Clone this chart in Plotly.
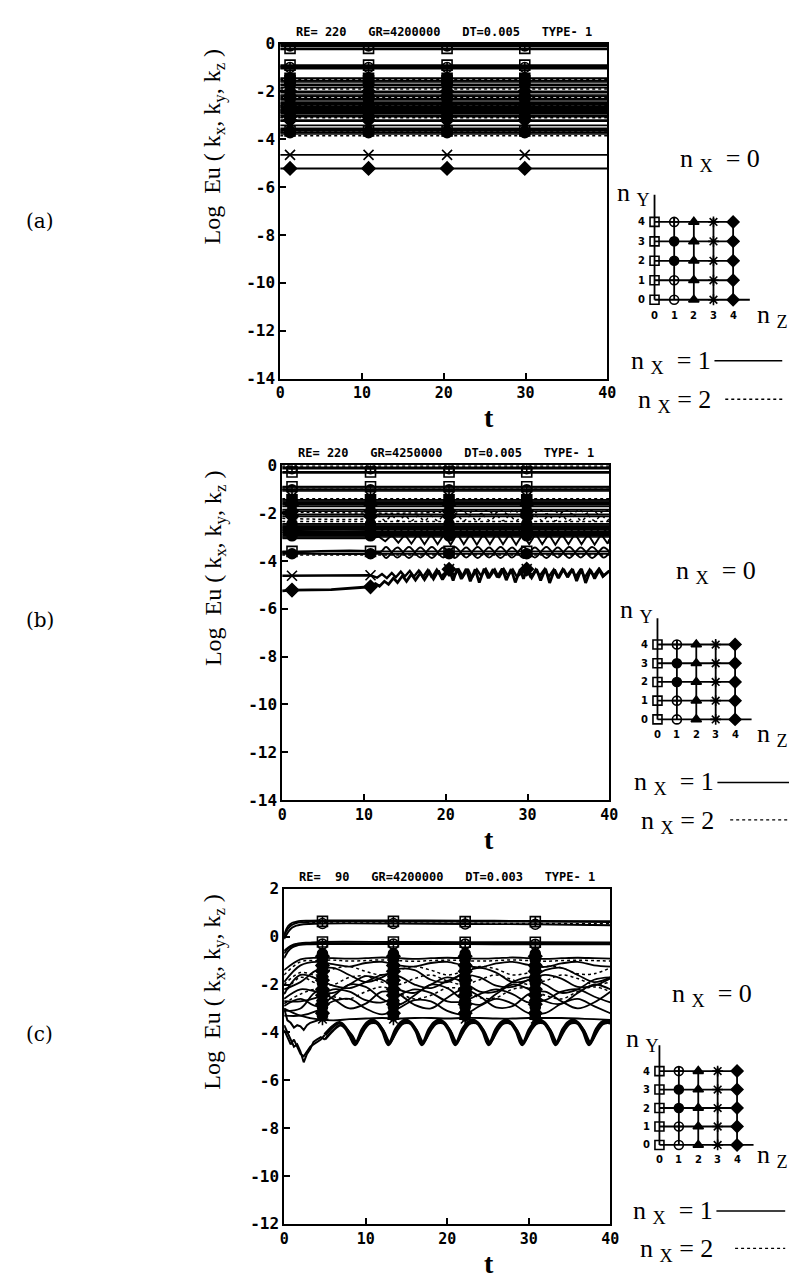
import plotly.graph_objects as go

W, H = 797, 1277
NB = '\u00a0'

# ---------------- data ----------------
X_TICKS = [0, 10, 20, 30, 40]
Y_TICKS_AB = [0, -2, -4, -6, -8, -10, -12, -14]
Y_TICKS_C = [2, 0, -2, -4, -6, -8, -10, -12]
TITLES = ['RE= 220   GR=4200000   DT=0.005   TYPE- 1',
          'RE= 220   GR=4250000   DT=0.005   TYPE- 1',
          'RE=  90   GR=4200000   DT=0.003   TYPE- 1']
PANEL_LABELS = ['(a)', '(b)', '(c)']
MARK_T_AB = [1.2, 10.8, 20.4, 29.9]
MARK_T_C = [4.7, 13.4, 22.2, 30.8]

# panel (a): nearly constant levels
A_MARKED_LEVELS = [-0.10, -0.20, -0.90, -1.00, -1.45, -1.55, -1.75, -2.00, -2.20, -2.35, -2.45, -2.55, -2.62,
                   -2.70, -2.78, -2.85, -2.92, -3.05, -3.20, -3.42, -3.55, -3.65, -3.72, -4.65, -5.22]
A_MARKED_SYMBOLS = ['circle-cross-open', 'square-open', 'square-open', 'circle-cross-open', 'square', 'square-open',
                    'circle', 'diamond', 'diamond', 'circle', 'triangle-up', 'diamond', 'circle', 'triangle-up',
                    'diamond', 'circle', 'triangle-up', 'diamond', 'diamond', 'x-thin-open', 'triangle-up',
                    'square-open', 'circle', 'x-thin-open', 'diamond']
A_SOLID_LEVELS = [-0.05, -0.25, -0.95, -1.05, -1.60, -1.70, -1.85, -2.05, -2.15, -2.30, -2.50, -2.66, -2.75,
                  -2.88, -3.00, -3.25, -3.60, -3.78]
A_DOTTED_LEVELS = [-0.02, -0.98, -1.50, -1.90, -2.25, -2.60, -2.82, -3.10, -3.70, -3.85]

# panel (b)
B_MARKED_LEVELS = [-0.14, -0.28, -0.90, -1.03, -1.45, -1.55, -1.65, -1.92, -2.13, -2.45, -2.55, -2.62, -2.70,
                   -2.78, -2.85, -2.95, -3.60, -3.70]
B_MARKED_SYMBOLS = ['circle-cross-open', 'square-open', 'square-open', 'circle-cross-open', 'square', 'circle',
                    'diamond', 'diamond', 'diamond', 'circle', 'triangle-up', 'diamond', 'circle', 'triangle-up',
                    'diamond', 'circle', 'square-open', 'circle']
B_SOLID_LEVELS = [-0.08, -0.32, -0.95, -1.08, -1.50, -1.60, -1.72, -1.85, -2.05, -2.50, -2.66, -2.80, -2.90, -3.00]
B_DOTTED_LEVELS = [-0.03, -1.00, -1.40, -2.35, -2.58, -3.75]
B_SPIKE = [(0, -5.25), (1.2, -5.22), (6.0, -5.2), (10.8, -5.08), (11.4, -4.95), (11.9, -5.06), (12.5, -4.85),
           (13.0, -4.98), (13.6, -4.72), (14.1, -4.9), (14.7, -4.62), (15.2, -4.85), (15.8, -4.55), (16.3, -4.8),
           (16.9, -4.5), (17.4, -4.78), (18.0, -4.45), (18.5, -4.75), (19.1, -4.4), (19.6, -4.78), (20.4, -4.35),
           (20.9, -4.82), (21.4, -4.32), (21.9, -4.75), (22.5, -4.33), (23.0, -4.85), (23.6, -4.35), (24.1, -4.9),
           (24.7, -4.33), (25.2, -4.72), (25.8, -4.35), (26.3, -4.68), (26.9, -4.32), (27.4, -4.8), (28.0, -4.34),
           (28.5, -4.9), (29.1, -4.36), (29.5, -4.75), (29.9, -4.34), (30.5, -4.7), (31.1, -4.35), (31.6, -4.82),
           (32.2, -4.33), (32.7, -4.92), (33.3, -4.36), (33.8, -4.72), (34.4, -4.34), (34.9, -4.68), (35.5, -4.35),
           (36.0, -4.84), (36.6, -4.33), (37.1, -4.92), (37.7, -4.38), (38.2, -4.74), (38.8, -4.36), (39.3, -4.62),
           (40, -4.42)]
B_XCURVE = [(0, -4.62), (1.2, -4.62), (10.8, -4.6), (11.6, -4.7), (12.2, -4.55), (12.8, -4.72), (13.4, -4.5),
            (13.9, -4.68), (14.5, -4.45), (15.0, -4.65), (15.6, -4.42), (16.1, -4.66), (16.7, -4.4), (17.2, -4.68),
            (17.8, -4.38), (18.3, -4.7), (18.9, -4.36), (19.4, -4.66), (20.4, -4.34), (21.0, -4.62), (21.6, -4.36),
            (22.1, -4.66), (22.7, -4.34), (23.2, -4.7), (23.8, -4.36), (24.3, -4.62), (24.9, -4.34), (25.4, -4.66),
            (26.0, -4.36), (26.5, -4.7), (27.1, -4.34), (27.6, -4.62), (28.2, -4.36), (28.7, -4.66), (29.9, -4.34),
            (30.4, -4.7), (31.0, -4.36), (31.5, -4.62), (32.1, -4.34), (32.6, -4.66), (33.2, -4.36), (33.7, -4.7),
            (34.3, -4.34), (34.8, -4.62), (35.4, -4.36), (35.9, -4.66), (36.5, -4.34), (37.0, -4.7), (37.6, -4.36),
            (38.1, -4.62), (38.7, -4.34), (39.2, -4.66), (40, -4.4)]
B_ZIG = [(0, -3.05), (11.0, -3.05), (11.8, -2.98), (12.6, -3.18), (13.4, -2.92), (14.2, -3.24), (15.0, -2.9),
         (15.8, -3.28), (16.6, -2.88), (17.4, -3.3), (18.2, -2.88), (19.0, -3.3), (19.8, -2.88), (20.6, -3.32),
         (21.4, -2.86), (22.2, -3.3), (23.0, -2.88), (23.8, -3.32), (24.6, -2.88), (25.4, -3.3), (26.2, -2.86),
         (27.0, -3.3), (27.8, -2.88), (28.6, -3.32), (29.4, -2.88), (30.2, -3.3), (31.0, -2.86), (31.8, -3.3),
         (32.6, -2.88), (33.4, -3.32), (34.2, -2.88), (35.0, -3.3), (35.8, -2.86), (36.6, -3.3), (37.4, -2.88),
         (38.2, -3.32), (39.0, -2.88), (39.8, -3.28), (40, -3.1)]
B_CIRC1 = [(0, -3.62), (12.0, -3.62), (12.7, -3.42), (14.1, -3.86), (15.5, -3.42), (16.9, -3.86), (18.3, -3.42),
           (19.7, -3.86), (21.1, -3.42), (22.5, -3.86), (23.9, -3.42), (25.3, -3.86), (26.7, -3.42), (28.1, -3.86),
           (29.5, -3.42), (30.9, -3.86), (32.3, -3.42), (33.7, -3.86), (35.1, -3.42), (36.5, -3.86), (37.9, -3.42),
           (39.3, -3.86), (40, -3.65)]
B_CIRC2 = [(0, -3.66), (12.0, -3.66), (12.7, -3.88), (14.1, -3.44), (15.5, -3.88), (16.9, -3.44), (18.3, -3.88),
           (19.7, -3.44), (21.1, -3.88), (22.5, -3.44), (23.9, -3.88), (25.3, -3.44), (26.7, -3.88), (28.1, -3.44),
           (29.5, -3.88), (30.9, -3.44), (32.3, -3.88), (33.7, -3.44), (35.1, -3.88), (36.5, -3.44), (37.9, -3.88),
           (39.3, -3.44), (40, -3.62)]
B_WAVY_S = [(0, -2.72), (11.0, -2.72), (11.8, -2.62), (12.6, -2.82), (13.4, -2.62), (14.2, -2.84), (15.0, -2.6),
            (15.8, -2.84), (16.6, -2.62), (17.4, -2.82), (18.2, -2.6), (19.0, -2.84), (19.8, -2.62), (20.6, -2.82),
            (21.4, -2.6), (22.2, -2.84), (23.0, -2.62), (23.8, -2.82), (24.6, -2.6), (25.4, -2.84), (26.2, -2.62),
            (27.0, -2.82), (27.8, -2.6), (28.6, -2.84), (29.4, -2.62), (30.2, -2.82), (31.0, -2.6), (31.8, -2.84),
            (32.6, -2.62), (33.4, -2.82), (34.2, -2.6), (35.0, -2.84), (35.8, -2.62), (36.6, -2.82), (37.4, -2.6),
            (38.2, -2.84), (39.0, -2.62), (39.8, -2.8), (40, -2.72)]
B_WAVY_D1 = [(0, -2.22), (11.0, -2.22), (11.8, -2.12), (12.6, -2.32), (13.4, -2.12), (14.2, -2.32), (15.0, -2.12),
             (15.8, -2.32), (16.6, -2.12), (17.4, -2.32), (18.2, -2.12), (19.0, -2.32), (19.8, -2.12), (20.6, -2.32),
             (21.4, -2.12), (22.2, -2.32), (23.0, -2.12), (23.8, -2.32), (24.6, -2.12), (25.4, -2.32), (26.2, -2.12),
             (27.0, -2.32), (27.8, -2.12), (28.6, -2.32), (29.4, -2.12), (30.2, -2.32), (31.0, -2.12), (31.8, -2.32),
             (32.6, -2.12), (33.4, -2.32), (34.2, -2.12), (35.0, -2.32), (35.8, -2.12), (36.6, -2.32), (37.4, -2.12),
             (38.2, -2.32), (39.0, -2.12), (39.8, -2.3), (40, -2.25)]
B_WAVY_D2 = [(0, -1.95), (19.5, -1.95), (20.3, -1.87), (21.1, -2.03), (21.9, -1.87), (22.7, -2.04), (23.5, -1.86),
             (24.3, -2.03), (25.1, -1.87), (25.9, -2.04), (26.7, -1.86), (27.5, -2.03), (28.3, -1.87), (29.1, -2.04),
             (29.9, -1.86), (30.7, -2.03), (31.5, -1.87), (32.3, -2.04), (33.1, -1.86), (33.9, -2.03), (34.7, -1.87),
             (35.5, -2.04), (36.3, -1.86), (37.1, -2.03), (37.9, -1.87), (38.7, -2.04), (39.5, -1.86), (40, -1.95)]

# panel (c)
C_TOP_T = [0, 0.5, 1, 1.5, 2, 3, 4.7, 13.4, 22.2, 30.8, 40]
C_MARKED = [('square-cross-open', [0.05, 0.35, 0.5, 0.57, 0.6, 0.62, 0.64, 0.64, 0.63, 0.63, 0.61]),
            ('circle-open', [-0.1, 0.2, 0.38, 0.46, 0.5, 0.53, 0.55, 0.55, 0.53, 0.52, 0.48]),
            ('square-open', [-0.6, -0.45, -0.35, -0.3, -0.27, -0.25, -0.22, -0.22, -0.23, -0.23, -0.24]),
            ('circle-cross-open', [-0.9, -0.6, -0.45, -0.38, -0.34, -0.32, -0.31, -0.31, -0.31, -0.32, -0.32])]
C_TOP_SOLID = [[0.1, 0.45, 0.58, 0.63, 0.66, 0.67, 0.68, 0.68, 0.67, 0.66, 0.65],
               [-0.7, -0.5, -0.4, -0.33, -0.3, -0.28, -0.27, -0.27, -0.27, -0.27, -0.27]]
C_TOP_DOTTED = [[0.0, 0.4, 0.55, 0.6, 0.62, 0.6, 0.58, 0.57, 0.56, 0.55, 0.54]]
T_C2 = [0, 2, 4, 6, 8, 10, 12, 14, 16, 18, 20, 22, 24, 26, 28, 30, 32, 34, 36, 38, 40]
C_WAVY_SOLID = [
    [-1.4, -0.95, -0.88, -0.9, -0.92, -0.9, -0.87, -0.9, -0.93, -0.9, -0.88, -0.9, -0.92, -0.9, -0.87, -0.9, -0.93, -0.9, -0.88, -0.9, -0.92],
    [-1.9, -1.2, -1.05, -1.15, -1.25, -1.1, -1.05, -1.2, -1.25, -1.1, -1.05, -1.2, -1.28, -1.12, -1.05, -1.18, -1.26, -1.12, -1.05, -1.2, -1.25],
    [-2.2, -1.9, -1.4, -1.3, -1.6, -1.9, -1.7, -1.35, -1.4, -1.8, -1.9, -1.5, -1.3, -1.5, -1.9, -1.8, -1.4, -1.3, -1.6, -1.9, -1.7],
    [-2.6, -2.2, -2.3, -2.35, -2.0, -1.65, -1.8, -2.2, -2.35, -2.0, -1.7, -1.9, -2.3, -2.3, -1.9, -1.7, -2.0, -2.35, -2.2, -1.8, -1.7],
    [-2.9, -2.6, -2.9, -2.5, -2.0, -2.1, -2.6, -2.85, -2.45, -2.0, -2.15, -2.65, -2.85, -2.4, -2.0, -2.2, -2.7, -2.8, -2.35, -2.0, -2.2],
    [-3.1, -3.0, -2.3, -2.6, -3.0, -2.8, -2.3, -2.4, -2.85, -3.0, -2.55, -2.2, -2.5, -2.95, -2.9, -2.4, -2.3, -2.7, -3.0, -2.75, -2.3],
    [-3.3, -3.3, -3.1, -2.7, -2.6, -3.0, -3.25, -3.0, -2.65, -2.7, -3.1, -3.25, -2.9, -2.6, -2.8, -3.2, -3.2, -2.8, -2.6, -2.9, -3.2],
    [-3.0, -3.3, -3.45, -3.5, -3.45, -3.42, -3.4, -3.42, -3.4, -3.4, -3.42, -3.4, -3.4, -3.42, -3.42, -3.4, -3.4, -3.4, -3.42, -3.45, -3.48],
    [-2.4, -1.6, -1.75, -2.05, -2.15, -1.9, -1.6, -1.65, -2.0, -2.15, -1.85, -1.6, -1.7, -2.05, -2.1, -1.8, -1.6, -1.75, -2.1, -2.05, -1.75],
    [-2.7, -2.7, -2.55, -2.2, -2.3, -2.65, -2.75, -2.45, -2.2, -2.35, -2.7, -2.7, -2.4, -2.2, -2.4, -2.75, -2.65, -2.3, -2.2, -2.5, -2.75]]
C_WAVY_DOTTED = [
    [-1.6, -1.05, -1.0, -0.98, -1.02, -1.0, -0.97, -1.0, -1.03, -1.0, -0.98, -1.0, -1.02, -1.0, -0.97, -1.0, -1.03, -1.0, -0.98, -1.0, -1.02],
    [-2.0, -1.5, -1.6, -1.35, -1.25, -1.45, -1.6, -1.4, -1.25, -1.4, -1.6, -1.45, -1.25, -1.35, -1.6, -1.5, -1.25, -1.3, -1.55, -1.55, -1.3],
    [-2.4, -1.7, -1.95, -2.0, -1.7, -1.65, -1.9, -2.0, -1.75, -1.6, -1.85, -2.0, -1.8, -1.6, -1.8, -2.0, -1.85, -1.6, -1.75, -2.0, -1.9],
    [-2.8, -2.4, -2.2, -2.5, -2.6, -2.3, -2.1, -2.35, -2.6, -2.45, -2.15, -2.2, -2.55, -2.55, -2.2, -2.15, -2.45, -2.6, -2.3, -2.1, -2.3]]
C_STACK_Y = [-0.72, -0.82, -0.95, -1.08, -1.2, -1.32, -1.45, -1.58, -1.7, -1.82, -1.95, -2.08, -2.2, -2.32, -2.45,
             -2.58, -2.7, -2.82, -2.95, -3.08, -3.2, -3.3, -3.45]
C_STACK_SYMBOLS = ['circle', 'diamond', 'circle', 'triangle-up', 'diamond', 'circle', 'diamond', 'triangle-up',
                   'circle', 'diamond', 'circle', 'triangle-up', 'diamond', 'circle', 'diamond', 'triangle-up',
                   'circle', 'diamond', 'circle', 'triangle-up', 'diamond', 'circle', 'asterisk-open']
T_E = [0, 0.4, 0.8, 1.2, 1.6, 2.0, 2.4, 2.8, 3.2, 3.6, 4.0, 4.5, 5.0]
C_EARLY = [[-3.9, -4.2, -4.5, -4.3, -4.6, -4.9, -5.0, -4.8, -4.6, -4.5, -4.4, -4.3, -4.1],
           [-3.7, -4.0, -4.3, -4.6, -4.5, -4.8, -5.25, -4.9, -4.7, -4.4, -4.3, -4.2, -4.3],
           [-3.0, -3.5, -3.6, -3.8, -3.7, -3.75, -3.9, -3.7, -3.6, -3.55, -3.5, -3.45, -3.5]]
CV1 = [(5.0, -4.1), (6.0, -3.75), (6.8, -3.6), (7.5, -3.8), (8.1, -4.15), (8.7, -4.5),
       (9.6, -3.88), (10.2, -3.6), (10.8, -3.5), (11.4, -3.6), (12.1, -3.95), (12.8, -4.5),
       (13.7, -3.88), (14.3, -3.6), (14.9, -3.5), (15.5, -3.6), (16.2, -3.95), (16.9, -4.5),
       (17.8, -3.88), (18.4, -3.6), (19.0, -3.5), (19.6, -3.6), (20.3, -3.95), (21.0, -4.5),
       (21.9, -3.88), (22.5, -3.6), (23.1, -3.5), (23.7, -3.6), (24.4, -3.95), (25.1, -4.5),
       (26.0, -3.88), (26.6, -3.6), (27.2, -3.5), (27.8, -3.6), (28.5, -3.95), (29.2, -4.5),
       (30.1, -3.88), (30.7, -3.6), (31.3, -3.5), (31.9, -3.6), (32.6, -3.95), (33.3, -4.5),
       (34.2, -3.88), (34.8, -3.6), (35.4, -3.5), (36.0, -3.6), (36.7, -3.95), (37.4, -4.5),
       (38.3, -3.88), (38.9, -3.6), (39.5, -3.52), (40.0, -3.56)]
CV2 = [(5.0, -4.3), (6.0, -3.92), (6.9, -3.7), (7.6, -3.85), (8.3, -4.12), (8.85, -4.4),
       (9.75, -3.92), (10.35, -3.66), (10.95, -3.6), (11.55, -3.66), (12.25, -3.98), (12.95, -4.4),
       (13.85, -3.92), (14.45, -3.66), (15.05, -3.6), (15.65, -3.66), (16.35, -3.98), (17.05, -4.4),
       (17.95, -3.92), (18.55, -3.66), (19.15, -3.6), (19.75, -3.66), (20.45, -3.98), (21.15, -4.4),
       (22.05, -3.92), (22.65, -3.66), (23.25, -3.6), (23.85, -3.66), (24.55, -3.98), (25.25, -4.4),
       (26.15, -3.92), (26.75, -3.66), (27.35, -3.6), (27.95, -3.66), (28.65, -3.98), (29.35, -4.4),
       (30.25, -3.92), (30.85, -3.66), (31.45, -3.6), (32.05, -3.66), (32.75, -3.98), (33.45, -4.4),
       (34.35, -3.92), (34.95, -3.66), (35.55, -3.6), (36.15, -3.66), (36.85, -3.98), (37.55, -4.4),
       (38.45, -3.92), (39.05, -3.66), (39.65, -3.6), (40.0, -3.62)]

# mode-key diagrams
DIAG_NZ = [0, 1, 2, 3, 4]
DIAG_NY = [0, 1, 2, 3, 4]
DIAG_SYMBOLS = [  # index [ny][nz]
    ['square-open', 'circle-open', 'triangle-up', 'asterisk-open', 'diamond'],
    ['square-open', 'circle-cross-open', 'triangle-up', 'asterisk-open', 'diamond'],
    ['square-open', 'circle', 'triangle-up', 'asterisk-open', 'diamond'],
    ['square-open', 'circle', 'triangle-up', 'asterisk-open', 'diamond'],
    ['square-open', 'circle-cross-open', 'triangle-up', 'asterisk-open', 'diamond']]

# ---------------- geometry (pixels) ----------------
PANEL_BOX = [(272, 605, 27, 367), (274, 607, 455, 795), (276, 608, 885, 1225)]
DIAG_GEOM = [(653, 287, 20.0, 19.75), (656, 713, 19.75, 19.0), (658, 1145, 19.75, 18.75)]
DIAG_TEXT = [
    dict(nx0=(720, 145), ny=(632, 180), nz=(791, 304), nx1=(713, 350), l1=(714, 783, 349), nx2=(713, 390), l2=(725, 783, 388)),
    dict(nx0=(716, 563), ny=(635, 603), nz=(791, 729), nx1=(716, 778), l1=(717, 790, 777), nx2=(716, 817), l2=(730, 790, 815)),
    dict(nx0=(712, 993), ny=(641, 1038), nz=(791, 1156), nx1=(715, 1213), l1=(716, 786, 1212), nx2=(715, 1252), l2=(735, 786, 1250)),
]
LABEL_Y = [207, 612, 1032]

AXN = [('x', 'y'), ('x2', 'y2'), ('x3', 'y3')]
DAXN = [('x4', 'y4'), ('x5', 'y5'), ('x6', 'y6')]
STYLE = dict(marked=dict(width=1.9, dash='solid'), solid=dict(width=1.5, dash='solid'), dotted=dict(width=1.5, dash='dot'))
MSIZE = 10

fig = go.Figure()


def add_line(p, t, y, kind, symbol=None, mtimes=(), width=None, shape='linear'):
    xa, ya = AXN[p]
    st = STYLE[kind]
    kw = dict(x=list(t), y=list(y), xaxis=xa, yaxis=ya, showlegend=False, hoverinfo='skip',
              line=dict(color='black', width=width or st['width'], dash=st['dash'], shape=shape))
    if symbol:
        sizes = [MSIZE if any(abs(tt - m) < 1e-9 for m in mtimes) else 0 for tt in t]
        kw['mode'] = 'lines+markers'
        kw['marker'] = dict(symbol=symbol, size=sizes, color='black', opacity=1,
                            line=dict(color='black', width=1.6))
    else:
        kw['mode'] = 'lines'
    fig.add_trace(go.Scatter(**kw))


def add_pairs(p, pairs, kind, symbol=None, mtimes=(), width=None, shape='linear'):
    add_line(p, [a for a, _ in pairs], [b for _, b in pairs], kind, symbol, mtimes, width, shape)


T_FLAT_AB = [0] + MARK_T_AB + [40]

# panel (a)
for lvl in A_DOTTED_LEVELS:
    add_line(0, [0, 40], [lvl, lvl], 'dotted')
for lvl in A_SOLID_LEVELS:
    add_line(0, [0, 40], [lvl, lvl], 'solid')
for lvl, sym in zip(A_MARKED_LEVELS, A_MARKED_SYMBOLS):
    add_line(0, T_FLAT_AB, [lvl] * len(T_FLAT_AB), 'marked', sym, MARK_T_AB)

# panel (b)
for lvl in B_DOTTED_LEVELS:
    add_line(1, [0, 40], [lvl, lvl], 'dotted')
for lvl in B_SOLID_LEVELS:
    add_line(1, [0, 40], [lvl, lvl], 'solid')
add_pairs(1, B_WAVY_D1, 'dotted', shape='spline')
add_pairs(1, B_WAVY_D2, 'dotted', shape='spline')
add_pairs(1, B_WAVY_S, 'solid', shape='spline')
add_pairs(1, B_ZIG, 'solid', width=1.9)
add_pairs(1, B_CIRC1, 'solid', width=1.9, shape='spline')
add_pairs(1, B_CIRC2, 'solid', width=1.9, shape='spline')
for lvl, sym in zip(B_MARKED_LEVELS, B_MARKED_SYMBOLS):
    add_line(1, T_FLAT_AB, [lvl] * len(T_FLAT_AB), 'marked', sym, MARK_T_AB)
add_pairs(1, B_XCURVE, 'marked', 'x-thin-open', MARK_T_AB, width=2.4)
add_pairs(1, B_SPIKE, 'marked', 'diamond', MARK_T_AB, width=2.8)

# panel (c)
for yy in C_WAVY_DOTTED:
    add_line(2, T_C2, yy, 'dotted', shape='spline')
for yy in C_WAVY_SOLID:
    add_line(2, T_C2, yy, 'solid', width=1.8, shape='spline')
for yy in C_EARLY:
    add_line(2, T_E, yy, 'solid', width=2.0)
add_pairs(2, CV1, 'solid', width=3.6, shape='spline')
add_pairs(2, CV2, 'solid', width=2.6, shape='spline')
for yy in C_TOP_DOTTED:
    add_line(2, C_TOP_T, yy, 'dotted', shape='spline')
for yy in C_TOP_SOLID:
    add_line(2, C_TOP_T, yy, 'solid', width=1.8, shape='spline')
for sym, yy in C_MARKED:
    add_line(2, C_TOP_T, yy, 'marked', sym, MARK_T_C, shape='spline')
for m in MARK_T_C:
    fig.add_trace(go.Scatter(x=[m] * len(C_STACK_Y), y=C_STACK_Y, mode='markers', xaxis='x3', yaxis='y3',
                             showlegend=False, hoverinfo='skip',
                             marker=dict(symbol=C_STACK_SYMBOLS, size=MSIZE, color='black',
                                         line=dict(color='black', width=1.6))))

# diagrams
for p, (ox, oy, sx, sy) in enumerate(DIAG_GEOM):
    xa, ya = DAXN[p]
    gx, gy = [0, 0, None, 0, 4.85, None], [0, 5.4, None, 0, 0, None]
    for k in DIAG_NY[1:]:
        gx += [0, 4.25, None]
        gy += [k, k, None]
    for k in DIAG_NZ[1:]:
        gx += [k, k, None]
        gy += [0, 4.2, None]
    fig.add_trace(go.Scatter(x=gx, y=gy, mode='lines', xaxis=xa, yaxis=ya, showlegend=False, hoverinfo='skip',
                             line=dict(color='black', width=1.8)))
    mx, my, ms = [], [], []
    for ny in DIAG_NY:
        for nz in DIAG_NZ:
            mx.append(nz)
            my.append(ny)
            ms.append(DIAG_SYMBOLS[ny][nz])
    fig.add_trace(go.Scatter(x=mx, y=my, mode='markers', xaxis=xa, yaxis=ya, showlegend=False, hoverinfo='skip',
                             marker=dict(symbol=ms, size=9, color='black', line=dict(color='black', width=1.6))))

# ---------------- layout ----------------
lay = dict(width=W, height=H, margin=dict(l=0, r=0, t=0, b=0), paper_bgcolor='white', plot_bgcolor='white',
           showlegend=False)
annotations = []
shapes = []
ax_common = dict(showline=True, linecolor='black', linewidth=1.8, mirror=True, ticks='inside', ticklen=6,
                 tickwidth=1.6, tickcolor='black', showgrid=False, zeroline=False)
serif = 'Liberation Serif'
for p, (x0, x1, y0, y1) in enumerate(PANEL_BOX):
    sfx = '' if p == 0 else str(p + 1)
    yt = Y_TICKS_AB if p < 2 else Y_TICKS_C
    lay['xaxis' + sfx] = dict(ax_common, domain=[x0 / W, x1 / W], anchor='y' + sfx, range=[0, 40],
                              tickvals=X_TICKS, ticktext=[str(v) for v in X_TICKS],
                              tickfont=dict(family='DejaVu Sans Mono', size=15, color='black', weight='bold'))
    lay['yaxis' + sfx] = dict(ax_common, domain=[1 - y1 / H, 1 - y0 / H], anchor='x' + sfx,
                              range=[min(yt), max(yt)], tickvals=yt, ticktext=[str(v) for v in yt],
                              tickfont=dict(family='DejaVu Sans Mono', size=16, color='black', weight='bold'))
    cx = (x0 + x1) / 2
    annotations.append(dict(text=TITLES[p].replace(' ', NB), x=cx / W, y=1 - (y0 - 12) / H,
                            xref='paper', yref='paper', showarrow=False, xanchor='center', yanchor='middle',
                            font=dict(family='DejaVu Sans Mono', size=12, color='black', weight='bold')))
    annotations.append(dict(text='t', x=485 / W, y=1 - (y1 + 40) / H, xref='paper', yref='paper', showarrow=False,
                            xanchor='center', yanchor='middle',
                            font=dict(family=serif, size=28, color='black', weight='bold')))
    ytitle = 'Log' + NB + NB + 'Eu' + NB + '(' + NB + 'k<sub>x</sub>,' + NB + 'k<sub>y</sub>,' + NB + 'k<sub>z</sub>' + NB + ')'
    annotations.append(dict(text=ytitle, x=205 / W, y=1 - (y0 + 104) / H, xref='paper', yref='paper',
                            showarrow=False, textangle=-90, xanchor='center', yanchor='middle',
                            font=dict(family=serif, size=24, color='black')))
    annotations.append(dict(text=PANEL_LABELS[p], x=27 / W, y=1 - LABEL_Y[p] / H, xref='paper', yref='paper',
                            showarrow=False, xanchor='center', yanchor='middle',
                            font=dict(family='DejaVu Serif', size=20, color='black')))

for p, (ox, oy, sx, sy) in enumerate(DIAG_GEOM):
    sfx = str(p + 4)
    xr, yr = [-1.0, 5.5], [-1.0, 5.8]
    lay['xaxis' + sfx] = dict(domain=[(ox + xr[0] * sx) / W, (ox + xr[1] * sx) / W], range=xr, visible=False,
                              anchor='y' + sfx, fixedrange=True)
    lay['yaxis' + sfx] = dict(domain=[1 - (oy - yr[0] * sy) / H, 1 - (oy - yr[1] * sy) / H], range=yr,
                              visible=False, anchor='x' + sfx, fixedrange=True)
    for k in DIAG_NZ:
        annotations.append(dict(text=str(k), x=k, y=-0.8, xref='x' + sfx, yref='y' + sfx, showarrow=False,
                                font=dict(family='DejaVu Sans', size=10, color='black', weight='bold')))
    for k in DIAG_NY:
        annotations.append(dict(text=str(k), x=-0.68, y=k, xref='x' + sfx, yref='y' + sfx,
                                showarrow=False, font=dict(family='DejaVu Sans', size=10, color='black',
                                                           weight='bold')))
    d = DIAG_TEXT[p]
    nfont = dict(family=serif, size=26, color='black')

    def padd(txt, pos, anchor='center'):
        annotations.append(dict(text=txt, x=pos[0] / W, y=1 - pos[1] / H, xref='paper', yref='paper',
                                showarrow=False, xanchor=anchor, yanchor='middle', font=nfont))

    padd('n' + NB + '<sub>X</sub>' + NB + NB + '=' + NB + '0', d['nx0'])
    padd('n' + NB + '<sub>Y</sub>', d['ny'])
    padd('n' + NB + '<sub>Z</sub>', d['nz'], 'right')
    padd('n' + NB + '<sub>X</sub>' + NB + NB + '=' + NB + '1', d['nx1'], 'right')
    padd('n' + NB + '<sub>X</sub>' + NB + '=' + NB + '2', d['nx2'], 'right')
    la, lb, lyy = d['l1']
    shapes.append(dict(type='line', xref='paper', yref='paper', x0=la / W, x1=lb / W, y0=1 - lyy / H,
                       y1=1 - lyy / H, line=dict(color='black', width=1.6)))
    la, lb, lyy = d['l2']
    shapes.append(dict(type='line', xref='paper', yref='paper', x0=la / W, x1=lb / W, y0=1 - lyy / H,
                       y1=1 - lyy / H, line=dict(color='black', width=1.3, dash='dot')))

lay['annotations'] = annotations
lay['shapes'] = shapes
fig.update_layout(**lay)
fig.write_html('out.html')
